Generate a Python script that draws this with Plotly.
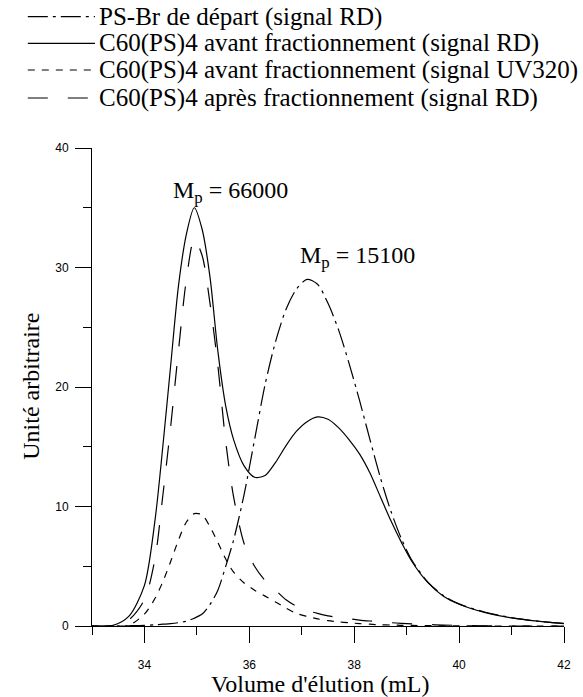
import plotly.graph_objects as go

# Elution volume grid (mL) shared by all chromatograms
volume = [33.0, 33.4, 33.7, 34.0, 34.2, 34.35, 34.5, 34.65, 34.8, 34.95,
          35.1, 35.25, 35.4, 35.55, 35.7, 35.9, 36.1, 36.3, 36.5, 36.7,
          36.9, 37.1, 37.3, 37.5, 37.7, 37.9, 38.1, 38.3, 38.5, 38.7,
          38.9, 39.1, 39.4, 39.7, 40.0, 40.5, 41.0, 41.5, 42.0]

# PS-Br de départ (signal RD)
ps_br_rd = [0, 0, 0.02, 0.05, 0.1, 0.15, 0.2, 0.28, 0.4, 0.65,
            1.0, 1.8, 3.0, 5.0, 7.2, 11.0, 15.6, 20.2, 23.8, 26.5,
            28.2, 29.0, 28.6, 27.0, 24.8, 22.0, 18.9, 15.6, 12.4, 9.6,
            7.3, 5.5, 3.7, 2.55, 1.85, 1.15, 0.7, 0.4, 0.22]

# C60(PS)4 avant fractionnement (signal RD)
c60_avant_rd = [0, 0.05, 0.8, 3.4, 8.8, 15.0, 21.8, 28.5, 32.8, 35.0,
                33.2, 29.2, 23.0, 18.4, 15.6, 13.4, 12.45, 12.6, 13.7, 15.1,
                16.3, 17.1, 17.5, 17.3, 16.6, 15.6, 14.4, 12.8, 10.8, 8.8,
                7.0, 5.4, 3.65, 2.5, 1.82, 1.12, 0.68, 0.4, 0.2]

# C60(PS)4 avant fractionnement (signal UV320)
c60_avant_uv = [0, 0, 0.05, 1.0, 2.3, 3.7, 5.4, 7.2, 8.7, 9.4,
                9.3, 8.3, 7.0, 5.6, 4.5, 3.6, 3.0, 2.5, 2.0, 1.5,
                1.05, 0.8, 0.6, 0.45, 0.35, 0.27, 0.2, 0.15, 0.1, 0.08,
                0.06, 0.05, 0.03, 0.02, 0.01, 0, 0, 0, 0]

# C60(PS)4 après fractionnement (signal RD)
c60_apres_rd = [0, 0.02, 0.5, 2.2, 5.6, 10.9, 16.7, 23.1, 29.0, 32.4,
                31.0, 27.0, 21.8, 15.4, 10.8, 6.9, 5.0, 3.8, 3.0, 2.2,
                1.65, 1.3, 1.05, 0.85, 0.72, 0.6, 0.5, 0.42, 0.35, 0.28,
                0.22, 0.17, 0.12, 0.08, 0.05, 0.02, 0, 0, 0]

series_names = [
    "PS-Br de départ (signal RD)",
    "C60(PS)4 avant fractionnement (signal RD)",
    "C60(PS)4 avant fractionnement (signal UV320)",
    "C60(PS)4 après fractionnement (signal RD)",
]
series_values = [ps_br_rd, c60_avant_rd, c60_avant_uv, c60_apres_rd]
series_dash = ["20px,5px,3px,5px", "solid", "7px,7px", "20px,20px"]

# Peak molar masses written above the two maxima
peak_labels = ["M<sub>p</sub> = 66000", "M<sub>p</sub> = 15100"]
peak_label_pos = [(34.5, 36.3), (36.92, 30.9)]

x_ticks = [34, 36, 38, 40, 42]
y_ticks = [0, 10, 20, 30, 40]

W, H = 583, 697
ML, MR, MT, MB = 92, 13, 148, 71
PW, PH = W - ML - MR, H - MT - MB


def px_x(p):
    return (p - ML) / PW


def px_y(p):
    return (H - MB - p) / PH


serif = "Liberation Serif"
sans = "Liberation Sans"

fig = go.Figure()
for name, vals, dash in zip(series_names, series_values, series_dash):
    fig.add_trace(go.Scatter(
        x=volume, y=vals, mode="lines", name=name,
        line=dict(color="black", width=1.2, dash=dash,
                  shape="spline", smoothing=0.8),
        showlegend=False,
    ))

# Legend block above the plot: line sample + label per series
row_y = [16.7, 43.3, 70.0, 98.0]
for name, dash, ry in zip(series_names, series_dash, row_y):
    fig.add_shape(type="line", xref="paper", yref="paper",
                  x0=px_x(27), x1=px_x(95), y0=px_y(ry), y1=px_y(ry),
                  line=dict(color="black", width=1.2, dash=dash))
    fig.add_annotation(xref="paper", yref="paper", x=px_x(97), y=px_y(ry),
                       text=name, showarrow=False, xanchor="left",
                       yanchor="middle",
                       font=dict(family=serif, size=25, color="black"))

for txt, (lx, ly) in zip(peak_labels, peak_label_pos):
    fig.add_annotation(x=lx, y=ly, text=txt, showarrow=False,
                       xanchor="left", yanchor="middle",
                       font=dict(family=serif, size=24, color="black"))

# Axis titles
fig.add_annotation(xref="paper", yref="paper", x=px_x(323.5), y=px_y(684),
                   text="Volume d'élution (mL)", showarrow=False,
                   xanchor="center", yanchor="middle",
                   font=dict(family=serif, size=24, color="black"))
fig.add_annotation(xref="paper", yref="paper", x=px_x(30), y=px_y(386),
                   text="Unité arbitraire", showarrow=False, textangle=-90,
                   xanchor="center", yanchor="middle",
                   font=dict(family=serif, size=24, color="black"))

axis_common = dict(
    showgrid=False, zeroline=False, showline=True, linecolor="black",
    linewidth=1, ticks="outside", tickcolor="black", tickwidth=1,
    ticklen=16, tickfont=dict(family=sans, size=12, color="black"),
)

fig.update_xaxes(range=[33, 42], tickvals=x_ticks,
                 ticktext=[str(v) for v in x_ticks],
                 ticklabelstandoff=12,
                 minor=dict(dtick=1, tick0=33, ticklen=8, ticks="outside",
                            tickcolor="black", tickwidth=1),
                 **axis_common)
fig.update_yaxes(range=[0, 40], tickvals=y_ticks,
                 ticktext=[str(v) for v in y_ticks],
                 ticklabelstandoff=4,
                 minor=dict(dtick=5, tick0=0, ticklen=8, ticks="outside",
                            tickcolor="black", tickwidth=1),
                 **axis_common)

fig.update_layout(
    width=W, height=H,
    margin=dict(l=ML, r=MR, t=MT, b=MB, pad=0),
    plot_bgcolor="white", paper_bgcolor="white",
)

fig.write_html("out.html")
